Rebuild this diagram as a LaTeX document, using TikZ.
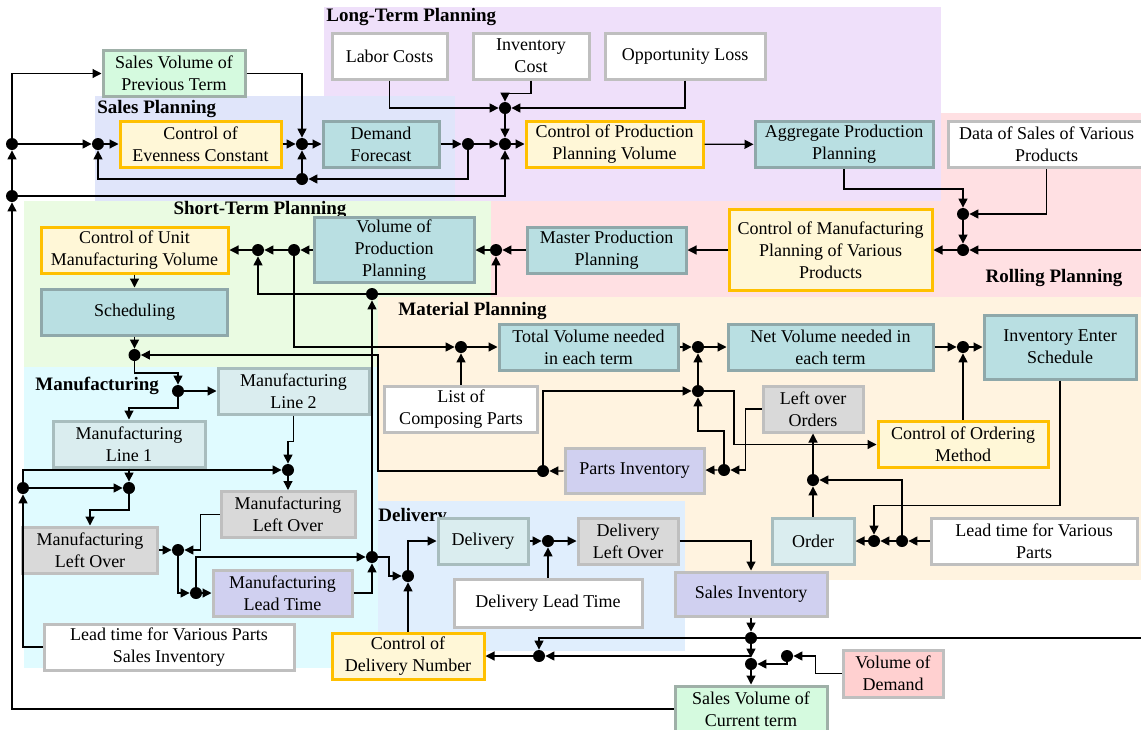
\documentclass[tikz,border=0pt]{standalone}
\usepackage{fontspec}
\setmainfont{Liberation Serif}
\usepackage{tikz}
\usetikzlibrary{positioning, arrows.meta}

\definecolor{tealfill}{HTML}{B9DFE2}
\definecolor{tealline}{HTML}{8FA8AA}
\definecolor{ctrlfill}{HTML}{FFF7D7}
\definecolor{ctrlline}{HTML}{FFC000}
\definecolor{greyline}{HTML}{BFBFBF}
\definecolor{greyfill}{HTML}{D9D9D9}
\definecolor{lavfill}{HTML}{D0D0F0}
\definecolor{mintfill}{HTML}{D5FADF}
\definecolor{mintline}{HTML}{9FB0A8}
\definecolor{rosefill}{HTML}{FFD0D0}
\definecolor{palefill}{HTML}{DAEDEF}
\definecolor{paleline}{HTML}{A8BDBE}
\definecolor{longbg}{HTML}{EFE0FA}
\definecolor{salesbg}{HTML}{E0E5FA}
\definecolor{shortbg}{HTML}{EAFBE2}
\definecolor{rollbg}{HTML}{FFE0E3}
\definecolor{matbg}{HTML}{FFF3E0}
\definecolor{manubg}{HTML}{E0FBFF}
\definecolor{delbg}{HTML}{E0EEFD}

\begin{document}
\begin{tikzpicture}[x=0.5pt, y=-0.5pt,
  box/.style={draw, line width=1.5pt, align=center, inner sep=1pt, minimum height=23pt, font=\fontsize{9}{11}\selectfont},
  teal/.style={box, fill=tealfill, draw=tealline},
  ctrl/.style={box, fill=ctrlfill, draw=ctrlline},
  plain/.style={box, fill=white, draw=greyline},
  grey/.style={box, fill=greyfill, draw=greyline},
  lav/.style={box, fill=lavfill, draw=greyline},
  mint/.style={box, fill=mintfill, draw=mintline},
  rose/.style={box, fill=rosefill, draw=greyline},
  pale/.style={box, fill=palefill, draw=paleline},
  dot/.style={circle, fill=black, inner sep=0pt, minimum size=6pt},
  arr/.style={-{Triangle[length=4.5pt,width=4.5pt]}, line width=0.6pt},
  ln/.style={line width=0.6pt},
  title/.style={inner sep=0pt, font=\fontsize{9.5}{11}\selectfont\bfseries}]
\useasboundingbox (0,0) rectangle (1141,729);

% Planning areas
\fill[rollbg] (491,113) rectangle (1141,297);
\fill[longbg] (324,7) rectangle (941,201);
\fill[salesbg] (95,96) rectangle (455,201);
\fill[shortbg] (24,201) rectangle (491,367);
\fill[matbg] (378,297) rectangle (1141,580);
\fill[manubg] (24,367) rectangle (378,668);
\fill[delbg] (378,501) rectangle (685,651);

\node[title, anchor=west] (tlong) at (326,17) {Long-Term Planning};
\node[title, anchor=west] (tsales) at (97,109) {Sales Planning};
\node[title] (tshort) at (260,210) {Short-Term Planning};
\node[title] (troll) at (1054,278) {Rolling Planning};
\node[title, anchor=west] (tmat) at (398,311) {Material Planning};
\node[title, anchor=west] (tmanu) at (35,386) {Manufacturing};
\node[title, anchor=west] (tdel) at (378,517) {Delivery};

% Define the nodes
\node[mint, minimum width=71pt] (prev) at (174,73.5) {Sales Volume of\\Previous Term};
\node[plain, minimum width=57.5pt] (labor) at (389.5,56) {Labor Costs};
\node[plain, minimum width=58pt] (invcost) at (531,56) {Inventory\\Cost};
\node[plain, minimum width=80pt] (opploss) at (685,56) {Opportunity Loss};
\node[ctrl, minimum width=80.5pt] (even) at (200.5,144) {Control of\\Evenness Constant};
\node[teal, minimum width=58pt] (forecast) at (381,144) {Demand\\Forecast};
\node[ctrl, minimum width=88.5pt] (cppv) at (614.5,144) {Control of Production\\Planning Volume};
\node[teal, minimum width=89pt] (aggr) at (844,144.5) {Aggregate Production\\Planning};
\node[plain, minimum width=98pt] (datasales) at (1046.5,144.5) {Data of Sales of Various\\Products};
\node[ctrl, minimum width=101.5pt, minimum height=40.5pt] (cmpv) at (830.5,250) {Control of Manufacturing\\Planning of Various\\Products};
\node[teal, minimum width=79.5pt] (mpp) at (606.5,250) {Master Production\\Planning};
\node[teal, minimum width=80pt, minimum height=31.5pt] (vpp) at (394,250) {Volume of\\Production\\Planning};
\node[ctrl, minimum width=93.5pt] (cumv) at (134.5,250) {Control of Unit\\Manufacturing Volume};
\node[teal, minimum width=93pt] (sched) at (134.5,312) {Scheduling};
\node[teal, minimum width=89.5pt] (totvol) at (588.5,347) {Total Volume needed\\in each term};
\node[teal, minimum width=102.5pt] (netvol) at (830.5,347) {Net Volume needed in\\each term};
\node[teal, minimum width=76pt, minimum height=32pt] (ies) at (1060,347) {Inventory Enter\\Schedule};
\node[plain, minimum width=76.5pt] (lcp) at (461,409) {List of\\Composing Parts};
\node[grey, minimum width=50pt] (loo) at (813,409) {Left over\\Orders};
\node[ctrl, minimum width=85pt] (com) at (963,444.5) {Control of Ordering\\Method};
\node[lav, minimum width=69.5pt, minimum height=22.5pt] (partinv) at (634.5,470.5) {Parts Inventory};
\node[pale, minimum width=41pt] (order) at (813,541) {Order};
\node[plain, minimum width=103pt] (ltvp) at (1034,541) {Lead time for Various\\Parts};
\node[pale, minimum width=75.5pt] (ml2) at (293.5,391) {Manufacturing\\Line 2};
\node[pale, minimum width=76pt] (ml1) at (129,444) {Manufacturing\\Line 1};
\node[grey, minimum width=67pt] (mlo2) at (288,514.5) {Manufacturing\\Left Over};
\node[grey, minimum width=67.5pt] (mlo1) at (90,550) {Manufacturing\\Left Over};
\node[lav, minimum width=69.5pt] (mlt) at (282.5,593) {Manufacturing\\Lead Time};
\node[plain, minimum width=125pt] (ltsi) at (169,647) {Lead time for Various Parts\\Sales Inventory};
\node[pale, minimum width=45pt] (deliv) at (483,541) {Delivery};
\node[grey, minimum width=50pt] (dlo) at (628,541) {Delivery\\Left Over};
\node[plain, minimum width=94pt, minimum height=24pt] (dlt) at (548,603) {Delivery Lead Time};
\node[ctrl, minimum width=76pt] (cdn) at (408,656) {Control of\\Delivery Number};
\node[lav, minimum width=76pt, minimum height=22pt] (salesinv) at (751,594) {Sales Inventory};
\node[rose, minimum width=50pt, minimum height=23.5pt] (vod) at (893,673.5) {Volume of\\Demand};
\node[mint, minimum width=76pt] (svc) at (751,709) {Sales Volume of\\Current term};

% Junctions
\node[dot] (dA) at (12,144) {};
\node[dot] (dB) at (12,196) {};
\node[dot] (dC) at (98,144) {};
\node[dot] (dD) at (302,144) {};
\node[dot] (dE) at (302,179) {};
\node[dot] (dF) at (468,144) {};
\node[dot] (dG) at (505,144) {};
\node[dot] (dH) at (505,108) {};
\node[dot] (dI) at (963,214) {};
\node[dot] (dJ) at (963,250) {};
\node[dot] (dK) at (496,250) {};
\node[dot] (dL) at (372,294) {};
\node[dot] (dM) at (294,250) {};
\node[dot] (dN) at (258,250) {};
\node[dot] (dO) at (461,347) {};
\node[dot] (dP) at (698,347) {};
\node[dot] (dQ) at (698,391) {};
\node[dot] (dR) at (963,347) {};
\node[dot] (dS) at (724,470) {};
\node[dot] (dT) at (543,471) {};
\node[dot] (dU) at (813,480) {};
\node[dot] (dV) at (874,541) {};
\node[dot] (dW) at (902,541) {};
\node[dot] (dX) at (134.5,355) {};
\node[dot] (dY) at (178,391) {};
\node[dot] (dZ) at (288,470) {};
\node[dot] (da) at (23,488) {};
\node[dot] (db) at (129,488) {};
\node[dot] (dc) at (178,550) {};
\node[dot] (dd) at (196,593) {};
\node[dot] (de) at (372,557) {};
\node[dot] (df) at (408,576) {};
\node[dot] (dg) at (548,541) {};
\node[dot] (dh) at (751,638) {};
\node[dot] (di) at (751,664) {};
\node[dot] (dj) at (787,656) {};
\node[dot] (dk) at (539,656) {};
\coordinate (edgeR) at (1141,250);
\coordinate (edgeS) at (1141,638);
\coordinate (tap) at (751,656);

% Draw the maps
\draw[arr] (svc.west) -| (dB);
\draw[arr] (dB) -- (dA);
\draw[arr] (dA) |- (prev.west);
\draw[arr] (dA) -- (dC);
\draw[arr] (dC) -- (even);
\draw[arr] (even) -- (dD);
\draw[arr] (prev.east) -| (dD);
\draw[arr] (dD) -- (forecast);
\draw[arr] (forecast) -- (dF);
\draw[arr] (dF) |- (dE);
\draw[arr] (dE) -- (dD);
\draw[arr] (dE) -| (dC);
\draw[arr] (dF) -- (dG);
\draw[arr] (dB) -| (dG);
\draw[arr] (labor.south) |- (dH);
\draw[arr] (invcost.south) -- ++(0,13) -| (dH);
\draw[arr] (opploss.south) |- (dH);
\draw[arr] (dH) -- (dG);
\draw[arr] (dG) -- (cppv);
\draw[arr] (cppv) -- (aggr);
\draw[arr] (aggr.south) -- ++(0,20) -| (dI);
\draw[arr] (datasales.south) |- (dI);
\draw[arr] (dI) -- (dJ);
\draw[arr] (edgeR) -- (dJ);
\draw[arr] (dJ) -- (cmpv);
\draw[arr] (cmpv) -- (mpp);
\draw[arr] (mpp) -- (dK);
\draw[arr] (dK) -- (vpp);
\draw[arr] (vpp) -- (dM);
\draw[arr] (dM) -- (dN);
\draw[arr] (dN) -- (cumv);
\draw[arr] (dL) -| (dK);
\draw[arr] (dL) -| (dN);
\draw[arr] (de) -- (dL);
\draw[arr] (dM) |- (dO);
\draw[arr] (lcp) -- (dO);
\draw[arr] (dO) -- (totvol);
\draw[arr] (totvol) -- (dP);
\draw[arr] (dP) -- (netvol);
\draw[arr] (dQ) -- (dP);
\draw[arr] (netvol) -- (dR);
\draw[arr] (dR) -- (ies);
\draw[arr] (com) -- (dR);
\draw[arr] (ies.south) -- ++(0,125) -| (dV);
\draw[arr] (ltvp) -- (dW);
\draw[arr] (dW) -- (dV);
\draw[arr] (dV) -- (order);
\draw[arr] (dW) |- (dU);
\draw[arr] (order) -- (dU);
\draw[arr] (dU) -- (loo);
\draw[arr] (loo.west) -- ++(-16,0) |- (dS);
\draw[arr] (dS) -- (partinv);
\draw[arr] (dS) -- ++(0,-39) -| (dQ);
\draw[arr] (partinv) -- (dT);
\draw[arr] (dT) |- (dQ);
\draw[arr] (dQ) -- ++(36,0) |- (com.west);
\draw[arr] (dT) -- ++(-165,0) |- (dX);
\draw[arr] (cumv) -- (sched);
\draw[arr] (sched) -- (dX);
\draw[arr] (dX) -- ++(0,18) -| (dY);
\draw[arr] (dY) -- (ml2);
\draw[arr] (dY) -- ++(0,17) -| (ml1);
\draw[arr] (ml2.south) -- ++(0,26) -| (dZ);
\draw[arr] (dZ) -- (mlo2);
\draw[arr] (ml1) -- (db);
\draw[arr] (ltsi.west) -| (da);
\draw[arr] (da) -- (db);
\draw[arr] (da) |- (dZ);
\draw[arr] (db) -- ++(0,22) -| (mlo1);
\draw[arr] (mlo1) -- (dc);
\draw[arr] (mlo2.west) -- ++(-19,0) |- (dc);
\draw[arr] (dc) |- (dd);
\draw[arr] (dd) -- (mlt);
\draw[arr] (dd) |- (de);
\draw[arr] (mlt.east) -| (de);
\draw[arr] (de) -- ++(17,0) |- (df);
\draw[arr] (cdn) -- (df);
\draw[arr] (df) |- (deliv);
\draw[arr] (deliv) -- (dg);
\draw[arr] (dlt) -- (dg);
\draw[arr] (dg) -- (dlo);
\draw[arr] (dlo.east) -| (salesinv);
\draw[arr] (salesinv) -- (dh);
\draw[ln] (dh) -- (edgeS);
\draw[arr] (dh) -| (dk);
\draw[arr] (dh) -- (di);
\draw[arr] (tap) -- (dk);
\draw[arr] (vod.west) -- ++(-26,0) |- (dj);
\draw[arr] (dj) |- (di);
\draw[arr] (di) -- (svc);
\draw[arr] (dk) -- (cdn);
\end{tikzpicture}
\end{document}
